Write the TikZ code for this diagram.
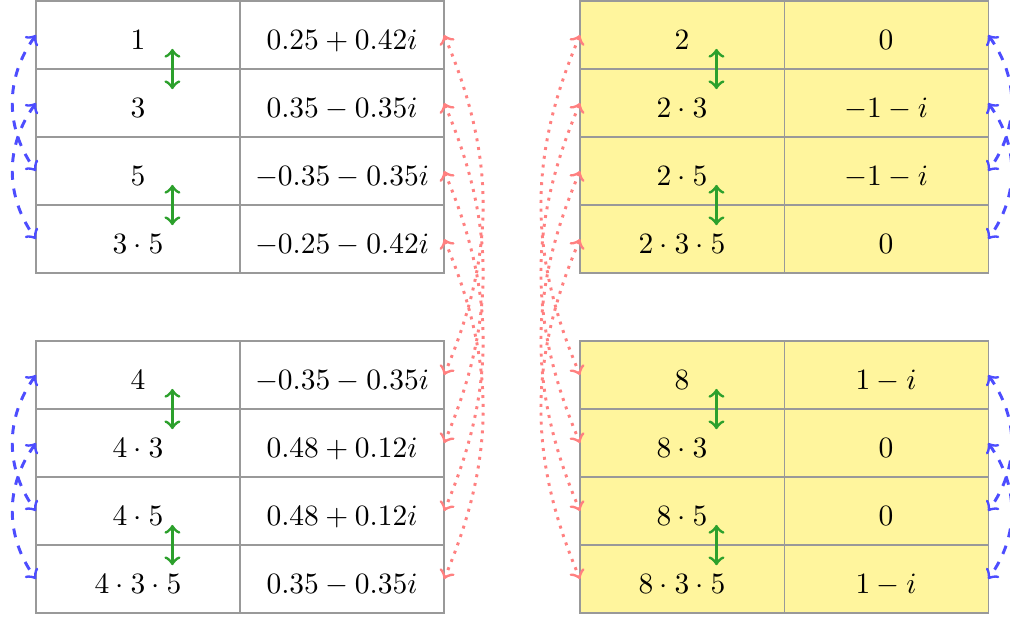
\documentclass[tikz,border=0pt]{standalone}
\usetikzlibrary{positioning}
\definecolor{cellyellow}{HTML}{FFF59D}
\definecolor{swapgreen}{HTML}{2CA02C}
\definecolor{pairblue}{HTML}{4D4DFF}
\definecolor{pairred}{HTML}{FF8080}

\begin{document}
\begin{tikzpicture}[
  cell/.style={draw=black!40, minimum width=2.432cm, minimum height=0.8106cm,
    inner sep=0pt, outer sep=0pt, text height=9.5pt, text depth=0pt},
  ycell/.style={cell, fill=cellyellow},
  swap/.style={line width=1pt, <->, swapgreen},
  stride2/.style={line width=1pt, dashed, <->, pairblue},
  stride4/.style={line width=1pt, dotted, <->, pairred}]
\useasboundingbox (-0.429,0.012) rectangle (11.610,-7.331);

% left tables
\foreach \a/\b [count=\k from 0] in {1/0.25+0.42i, 3/0.35-0.35i, 5/-0.35-0.35i, 3\cdot 5/-0.25-0.42i}{
  \node[cell] (tl-\k) at (1.216,{-(2*\k+1)*0.4053}) {$\a$};
  \node[cell, right=0pt of tl-\k] (tlv-\k) {$\b$};
}
\foreach \a/\b [count=\k from 0] in {4/-0.35-0.35i, 4\cdot 3/0.48+0.12i, 4\cdot 5/0.48+0.12i, 4\cdot 3\cdot 5/0.35-0.35i}{
  \node[cell] (bl-\k) at (1.216,{-(2*\k+11)*0.4053}) {$\a$};
  \node[cell, right=0pt of bl-\k] (blv-\k) {$\b$};
}

% right tables
\foreach \a/\b [count=\k from 0] in {2/0, 2\cdot 3/-1-i, 2\cdot 5/-1-i, 2\cdot 3\cdot 5/0}{
  \node[ycell] (tr-\k) at (7.701,{-(2*\k+1)*0.4053}) {$\a$};
  \node[ycell, right=0pt of tr-\k] (trv-\k) {$\b$};
}
\foreach \a/\b [count=\k from 0] in {8/1-i, 8\cdot 3/0, 8\cdot 5/0, 8\cdot 3\cdot 5/1-i}{
  \node[ycell] (br-\k) at (7.701,{-(2*\k+11)*0.4053}) {$\a$};
  \node[ycell, right=0pt of br-\k] (brv-\k) {$\b$};
}

% neighbour swaps and stride 2
\foreach \t in {tl,bl,tr,br}{
  \draw[swap] ([shift={(0.41,0.24)}]\t-0.south) -- ([shift={(0.41,-0.24)}]\t-1.north);
  \draw[swap] ([shift={(0.41,0.24)}]\t-2.south) -- ([shift={(0.41,-0.24)}]\t-3.north);
}
\foreach \t in {tl,bl}{
  \draw[stride2] (\t-0.west) to[bend right=36] (\t-2.west);
  \draw[stride2] (\t-1.west) to[bend right=36] (\t-3.west);
}
\foreach \t in {trv,brv}{
  \draw[stride2] (\t-0.east) to[bend left=36] (\t-2.east);
  \draw[stride2] (\t-1.east) to[bend left=36] (\t-3.east);
}

% stride 4
\foreach \k in {0,...,3}{
  \draw[stride4] (tlv-\k.east) to[bend left=23] (blv-\k.east);
  \draw[stride4] (tr-\k.west) to[bend right=23] (br-\k.west);
}
\end{tikzpicture}
\end{document}
